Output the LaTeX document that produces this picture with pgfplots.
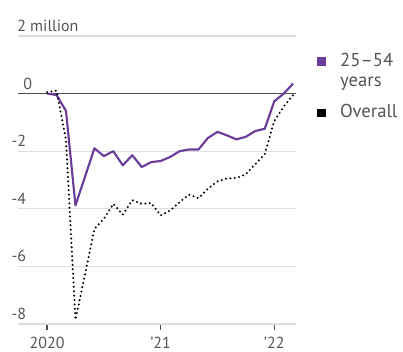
\documentclass[border=0pt]{standalone}
\usepackage{fontspec}
\setmainfont{PT Sans}
\usepackage{pgfplots}
\pgfplotsset{compat=1.18}
\definecolor{purp}{HTML}{6A3D9A}
\definecolor{gridc}{HTML}{DDDDDD}
\definecolor{zeroc}{HTML}{4D4D4D}
\definecolor{txt}{HTML}{555555}
\begin{document}
\begin{tikzpicture}
\begin{axis}[
  scale only axis, width=208.5pt, height=216pt,
  xmin=-3.07, xmax=26.3, ymin=-8, ymax=2,
  axis x line*=bottom, axis y line*=left,
  x axis line style={draw=gridc, line width=0.8pt, -},
  y axis line style={draw=none, -},
  xtick={0,12,24}, xticklabels={2020,{’21},{’22}},
  ytick={-8,-6,-4,-2,2},
  yticklabels={{\llap{-}8},{\llap{-}6},{\llap{-}4},{\llap{-}2},{2 million}},
  extra y ticks={0}, extra y tick labels={0},
  extra y tick style={grid=major, major tick length=0pt, grid style={draw=zeroc, line width=0.9pt}},
  ymajorgrids, grid style={draw=gridc, line width=0.8pt},
  tick align=outside, major tick length=4.5pt,
  xtick style={draw=zeroc, line width=0.9pt},
  ytick style={draw=none},
  tick label style={font=\fontsize{12}{14}\selectfont, text=txt},
  xticklabel style={yshift=-1.5pt},
  yticklabel style={anchor=south west, inner sep=0pt, xshift=3.75pt, yshift=3pt},
  legend style={at={(1.074,0.945)}, anchor=north west, draw=none, fill=none, inner sep=0pt,
    font=\fontsize{14}{15}\selectfont, text=txt, row sep=9pt,
    cells={anchor=base west}, nodes={inner sep=0pt, text depth=},
    /tikz/every odd column/.append style={column sep=11pt}},
  legend image code/.code={\fill[#1, draw=none] (0pt,0pt) rectangle (6.5pt,6.5pt);},
]
\addplot[purp, line width=1.6pt, line join=round] coordinates {
(0,0.0) (1,-0.05) (2,-0.6) (3,-3.88) (4,-2.9) (5,-1.9) (6,-2.17) (7,-2.0)
(8,-2.49) (9,-2.14) (10,-2.55) (11,-2.38) (12,-2.34) (13,-2.2) (14,-2.0)
(15,-1.94) (16,-1.94) (17,-1.54) (18,-1.33) (19,-1.45) (20,-1.59) (21,-1.5)
(22,-1.3) (23,-1.22) (24,-0.27) (25,0.0) (26,0.35)};
\addlegendentry{\begin{tabular}[t]{@{}l@{}}25–54\\years\end{tabular}}
\addplot[black, line width=1.7pt, line cap=round, dash pattern=on 0pt off 3.3pt] coordinates {
(0,0.05) (1,0.1) (2,-1.6) (3,-7.85) (4,-6.3) (5,-4.7) (6,-4.35) (7,-3.83)
(8,-4.2) (9,-3.7) (10,-3.83) (11,-3.8) (12,-4.23) (13,-4.06) (14,-3.77)
(15,-3.51) (16,-3.63) (17,-3.3) (18,-3.05) (19,-2.95) (20,-2.93) (21,-2.8)
(22,-2.45) (23,-2.1) (24,-0.95) (25,-0.45) (26,-0.05)};
\addlegendentry{Overall}
\end{axis}
\pgfresetboundingbox
\path[use as bounding box] (-13.5pt,-21pt) rectangle (288.75pt,243pt);
\end{tikzpicture}
\end{document}
